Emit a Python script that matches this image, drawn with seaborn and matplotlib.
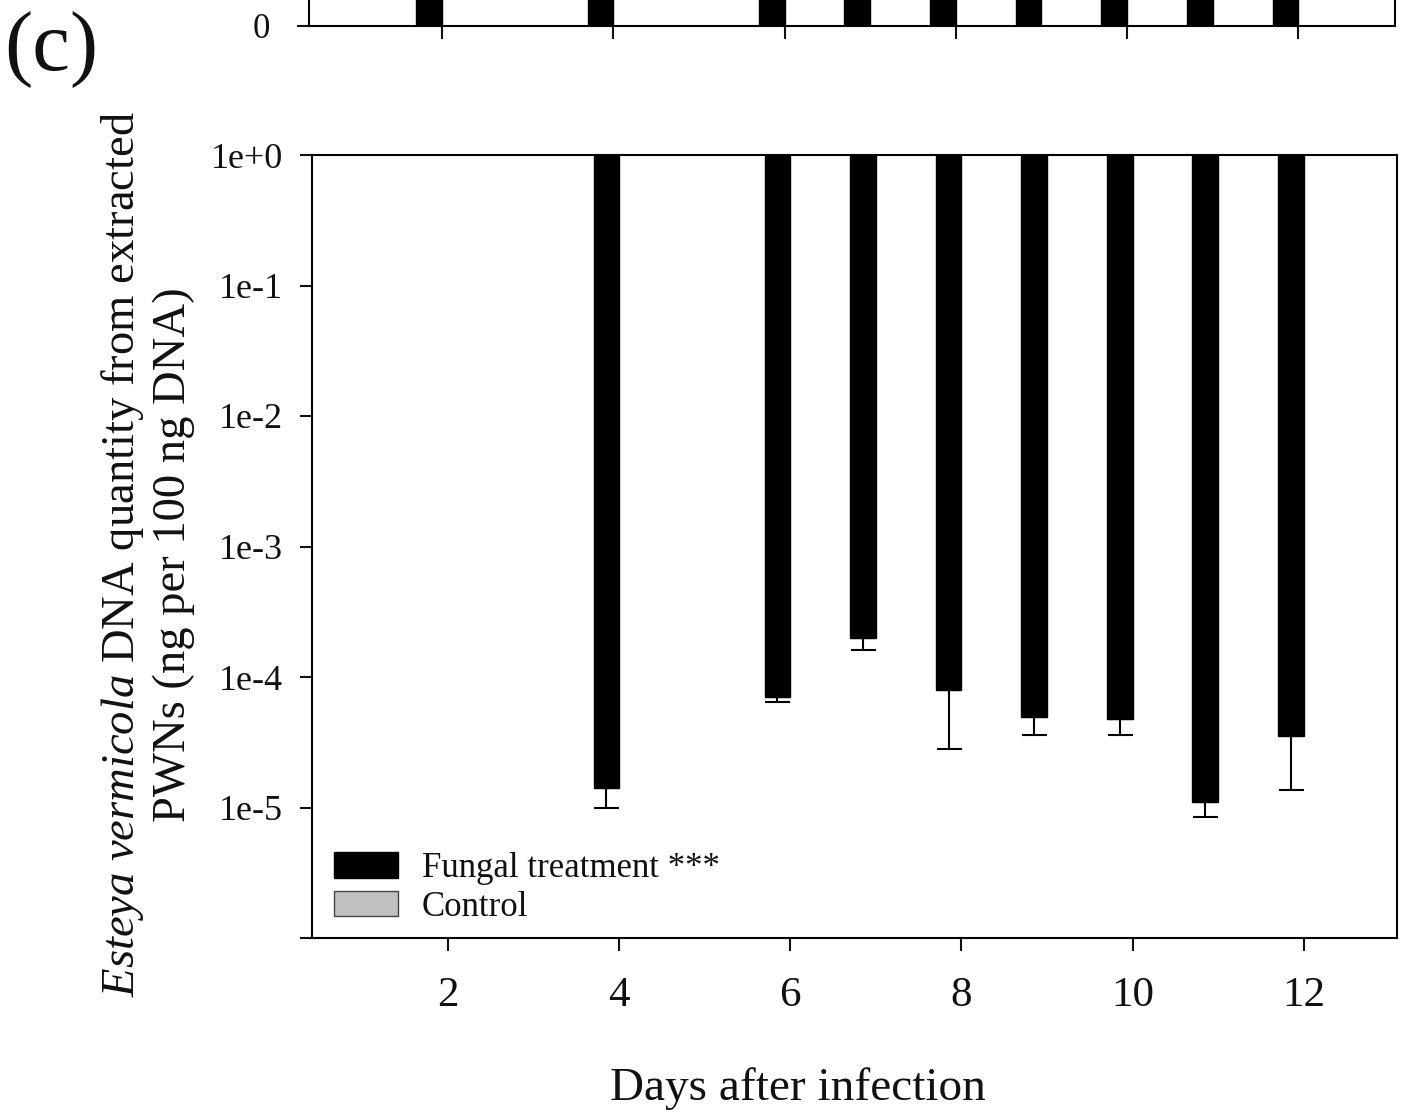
import numpy as np
import pandas as pd
import matplotlib
matplotlib.use("Agg")
import matplotlib.pyplot as plt
import seaborn as sns
from matplotlib.patches import Patch
from matplotlib.ticker import NullLocator

sns.set_theme(style="white")
plt.rcParams["font.family"] = ["Liberation Serif", "DejaVu Serif"]
plt.rcParams["mathtext.fontset"] = "custom"
plt.rcParams["mathtext.rm"] = "Liberation Serif"
plt.rcParams["mathtext.it"] = "Liberation Serif:italic"
plt.rcParams["text.color"] = "#111111"
plt.rcParams["axes.labelcolor"] = "#111111"
plt.rcParams["xtick.color"] = "#111111"
plt.rcParams["ytick.color"] = "#111111"

# ---------------- data ----------------
series = ["Fungal treatment ***", "Control"]
series_colors = ["#000000", "#c0c0c0"]

# panel (b) strip: only the base of its bars is visible (bars run off the top)
days_b = [2, 4, 6, 7, 8, 9, 10, 11, 12]
fungal_b = [40, 55, 60, 50, 45, 48, 52, 47, 44]
control_b = [0, 0, 0, 0, 0, 0, 0, 0, 0]

# panel (c): Esteya vermicola DNA quantity (log scale), lower error limit
days_c = [2, 4, 6, 7, 8, 9, 10, 11, 12]
fungal_c = [np.nan, 1.4e-5, 7.0e-5, 2.0e-4, 7.9e-5, 4.9e-5, 4.8e-5, 1.1e-5, 3.5e-5]
fungal_c_low = [np.nan, 1.0e-5, 6.4e-5, 1.6e-4, 2.8e-5, 3.6e-5, 3.6e-5, 8.5e-6, 1.35e-5]
control_c = [np.nan] * 9

xticks = [2, 4, 6, 8, 10, 12]
yticks_c = [1e0, 1e-1, 1e-2, 1e-3, 1e-4, 1e-5, 1e-6]
ytick_labels_c = ["1e+0", "1e-1", "1e-2", "1e-3", "1e-4", "1e-5", ""]

# ---------------- figure ----------------
W, H = 1406, 1118
fig = plt.figure(figsize=(W / 100, H / 100), dpi=100)
ax_b = fig.add_axes([309 / W, 1 - 26 / H, (1395 - 309) / W, 26 / H])
ax_c = fig.add_axes([312 / W, 1 - 938 / H, (1397 - 312) / W, (938 - 155) / H])

pal = dict(zip(series, series_colors))

df_b = pd.DataFrame({
    "day": days_b * 2,
    "value": fungal_b + control_b,
    "series": [series[0]] * len(days_b) + [series[1]] * len(days_b),
})
sns.barplot(data=df_b, x="day", y="value", hue="series", hue_order=series,
            palette=pal, native_scale=True, width=0.6, errorbar=None,
            edgecolor="black", linewidth=1, legend=False, ax=ax_b)

vals_c = np.array(fungal_c + control_c, dtype=float)
df_c = pd.DataFrame({
    "day": days_c * 2,
    "value": vals_c,
    "series": [series[0]] * len(days_c) + [series[1]] * len(days_c),
})
df_c["drop"] = df_c["value"] - 1.0  # bars hang down from 1e+0
sns.barplot(data=df_c, x="day", y="drop", hue="series", hue_order=series,
            palette=pal, native_scale=True, width=0.6, errorbar=None,
            edgecolor="black", linewidth=1, legend=False, bottom=1.0, ax=ax_c)

# error bars (lower only) at the fungal bar centres
cont = ax_c.containers[0]
low_map = {d: l for d, l in zip(days_c, fungal_c_low)}
valid_days = [d for d, v in zip(days_c, fungal_c) if not np.isnan(v)]
xs, ys, errs = [], [], []
for p, d in zip([p for p in cont.patches if np.isfinite(p.get_height())], valid_days):
    xc = p.get_x() + p.get_width() / 2
    yv = p.get_y() + p.get_height()
    xs.append(xc)
    ys.append(yv)
    errs.append(yv - low_map[d])
xs, ys, errs = np.array(xs), np.array(ys), np.array(errs)
ax_c.errorbar(xs, ys, yerr=[errs, np.zeros_like(errs)], fmt="none",
              ecolor="black", elinewidth=1.5, capsize=9, capthick=1.5, zorder=0.5)

# ---------------- axes styling ----------------
ax_c.set_yscale("log")
ax_c.set_ylim(1e-6, 1e0)
ax_c.set_xlim(0.41, 13.09)
ax_c.set_yticks(yticks_c)
ax_c.set_yticklabels(ytick_labels_c)
ax_c.yaxis.set_minor_locator(NullLocator())
ax_c.set_xticks(xticks)
ax_c.set_xticklabels([str(t) for t in xticks])
ax_c.tick_params(axis="both", which="major", direction="out", length=9, width=1.5,
                 left=True, bottom=True)
ax_c.tick_params(axis="y", pad=12, labelsize=26)
ax_c.tick_params(axis="x", pad=19, labelsize=31)
for s in ax_c.spines.values():
    s.set_visible(True)
    s.set_linewidth(1.5)
    s.set_color("black")

ax_c.set_ylabel(r"$\it{Esteya\ vermicola}$ DNA quantity from extracted" + "\n"
                + "PWNs (ng per 100 ng DNA)", fontsize=33.6, linespacing=1.18)
ax_c.yaxis.set_label_coords(-0.108, 0.49)
ax_c.set_xlabel("Days after infection", fontsize=34)
ax_c.xaxis.set_label_coords(0.448, -0.165)

handles = [Patch(facecolor=series_colors[0], edgecolor="black"),
           Patch(facecolor=series_colors[1], edgecolor="#444444")]
ax_c.legend(handles=handles, labels=series, loc="lower left",
            bbox_to_anchor=(0.0203, 0.0184), frameon=False, fontsize=25,
            handlelength=1.83, handleheight=0.77, handletextpad=0.7,
            labelspacing=0.17, borderpad=0, borderaxespad=0)

ax_b.set_ylim(0, 1.7)
ax_b.set_xlim(0.446, 13.13)
ax_b.set_yticks([0])
ax_b.set_yticklabels(["0"])
ax_b.set_xticks(xticks)
ax_b.set_xticklabels([])
ax_b.set_xlabel("")
ax_b.set_ylabel("")
ax_b.tick_params(axis="both", direction="out", length=9, width=1.5,
                 labelsize=25, left=True, bottom=True)
ax_b.tick_params(axis="y", pad=19)
ax_b.spines["top"].set_visible(False)
for k in ["left", "right", "bottom"]:
    ax_b.spines[k].set_visible(True)
    ax_b.spines[k].set_linewidth(1.5)
    ax_b.spines[k].set_color("black")

fig.text(4 / W, 1 - 50 / H, "(c)", fontsize=61, va="center", ha="left")

fig.savefig("out.png", dpi=100)
